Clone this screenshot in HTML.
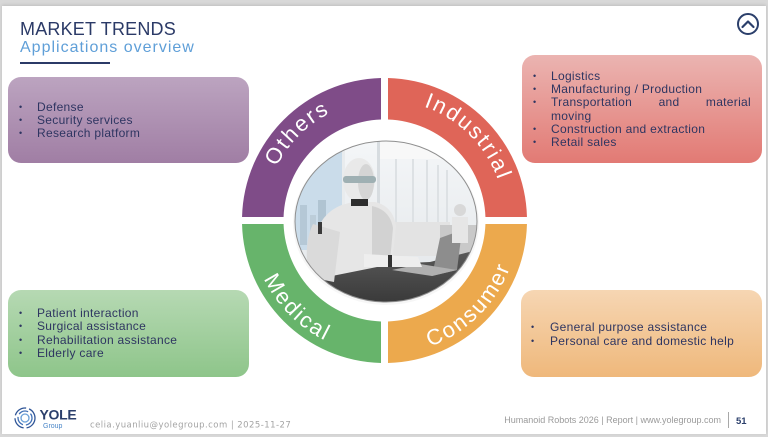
<!DOCTYPE html>
<html><head><meta charset="utf-8">
<style>
html,body{margin:0;padding:0;}
body{width:768px;height:437px;position:relative;overflow:hidden;background:#d8d8d8;font-family:"Liberation Sans",sans-serif;}
.slide{position:absolute;left:2px;top:6px;width:764px;height:428px;background:#fff;box-shadow:0 -1px 3px rgba(0,0,0,.12);}
.box{position:absolute;border-radius:13px;}
.li{position:absolute;font-size:12px;line-height:13px;color:#2e3561;white-space:nowrap;letter-spacing:.3px;}
.b{position:absolute;font-size:9px;line-height:13px;color:#2e3561;}
.t{position:absolute;white-space:nowrap;}
</style></head><body>
<div class="slide"></div>

<div class="t" style="left:20px;top:19px;font-size:18px;line-height:20px;color:#2b3a67;letter-spacing:.2px;">MARKET TRENDS</div>
<div class="t" style="left:20px;top:39px;font-size:16px;line-height:18px;color:#5f9fd8;letter-spacing:1px;">Applications overview</div>
<div style="position:absolute;left:20px;top:62px;width:90px;height:2px;background:#2b3a67;"></div>

<!-- boxes -->
<div class="box" style="left:8px;top:77px;width:241px;height:86px;background:linear-gradient(#bca4c0,#a07ea4);"></div>
<div class="box" style="left:522px;top:55px;width:240px;height:108px;background:linear-gradient(#ebb4b1,#e27a74);"></div>
<div class="box" style="left:8px;top:290px;width:241px;height:87px;background:linear-gradient(#b6d9b3,#8ec58a);"></div>
<div class="box" style="left:521px;top:290px;width:241px;height:87px;background:linear-gradient(#f6d6b3,#efb87b);"></div>

<!-- purple text -->
<div class="b" style="left:19px;top:100.5px">•</div><div class="li" style="left:37px;top:100.5px">Defense</div>
<div class="b" style="left:19px;top:113.5px">•</div><div class="li" style="left:37px;top:113.5px">Security services</div>
<div class="b" style="left:19px;top:126.5px">•</div><div class="li" style="left:37px;top:126.5px">Research platform</div>

<!-- red text -->
<div class="b" style="left:533px;top:69.5px">•</div><div class="li" style="left:551px;top:69.5px">Logistics</div>
<div class="b" style="left:533px;top:82.5px">•</div><div class="li" style="left:551px;top:82.5px">Manufacturing / Production</div>
<div class="b" style="left:533px;top:96px">•</div><div class="li" style="left:551px;top:96px;width:200px;display:flex;justify-content:space-between;"><span>Transportation</span><span>and</span><span>material</span></div>
<div class="li" style="left:551px;top:109.5px">moving</div>
<div class="b" style="left:533px;top:122.5px">•</div><div class="li" style="left:551px;top:122.5px">Construction and extraction</div>
<div class="b" style="left:533px;top:136px">•</div><div class="li" style="left:551px;top:136px">Retail sales</div>

<!-- green text -->
<div class="b" style="left:19px;top:306.5px">•</div><div class="li" style="left:37px;top:306.5px">Patient interaction</div>
<div class="b" style="left:19px;top:320px">•</div><div class="li" style="left:37px;top:320px">Surgical assistance</div>
<div class="b" style="left:19px;top:333.5px">•</div><div class="li" style="left:37px;top:333.5px">Rehabilitation assistance</div>
<div class="b" style="left:19px;top:346.5px">•</div><div class="li" style="left:37px;top:346.5px">Elderly care</div>

<!-- orange text -->
<div class="b" style="left:531px;top:320.5px">•</div><div class="li" style="left:550px;top:320.5px">General purpose assistance</div>
<div class="b" style="left:531px;top:334.5px">•</div><div class="li" style="left:550px;top:334.5px">Personal care and domestic help</div>

<svg width="768" height="437" style="position:absolute;left:0;top:0" xmlns="http://www.w3.org/2000/svg">
<defs>
<clipPath id="ph"><ellipse cx="386" cy="221.5" rx="91" ry="80.5"/></clipPath>
<linearGradient id="bg" x1="0" y1="0" x2="0" y2="1"><stop offset="0" stop-color="#f4f6f8"/><stop offset="1" stop-color="#e2e6e9"/></linearGradient>
<linearGradient id="tb" x1="0" y1="0" x2="0" y2="1"><stop offset="0" stop-color="#5a5a5a"/><stop offset="1" stop-color="#3a3a3a"/></linearGradient>
<path id="pO" d="M264,220.5 A120.5,120.5 0 0 1 384.5,100"/>
<path id="pI" d="M384.5,100 A120.5,120.5 0 0 1 505,220.5"/>
<path id="pM" d="M250.5,220.5 A134,134 0 0 0 384.5,354.5"/>
<path id="pC" d="M384.5,354.5 A134,134 0 0 0 518.5,220.5"/>
</defs>

<!-- ring -->
<path d="M242.04,217 A142.5,142.5 0 0 1 381,78.04 L381,119.56 A101,101 0 0 0 283.56,217 Z" fill="#7f4c88"/>
<path d="M388,78.04 A142.5,142.5 0 0 1 526.96,217 L485.44,217 A101,101 0 0 0 388,119.56 Z" fill="#df6558"/>
<path d="M526.96,224 A142.5,142.5 0 0 1 388,362.96 L388,321.44 A101,101 0 0 0 485.44,224 Z" fill="#eca94d"/>
<path d="M381,362.96 A142.5,142.5 0 0 1 242.04,224 L283.56,224 A101,101 0 0 0 381,321.44 Z" fill="#67b46b"/>

<g font-family="Liberation Sans, sans-serif" font-size="22" fill="#fff" letter-spacing="2" text-anchor="middle">
<text><textPath href="#pO" startOffset="50%">Others</textPath></text>
<text><textPath href="#pI" startOffset="50%">Industrial</textPath></text>
<text><textPath href="#pM" startOffset="50%">Medical</textPath></text>
<text><textPath href="#pC" startOffset="50%">Consumer</textPath></text>
</g>

<!-- photo -->
<ellipse cx="386" cy="223" rx="93" ry="82" fill="#f0f0f0" opacity=".6"/>
<g clip-path="url(#ph)">
<rect x="295" y="141" width="182" height="161" fill="url(#bg)"/>
<rect x="295" y="150" width="50" height="100" fill="#cadcea"/>
<rect x="300" y="205" width="7" height="40" fill="#b5c8d6"/>
<rect x="310" y="215" width="6" height="30" fill="#bccdd9"/>
<rect x="318" y="200" width="8" height="45" fill="#b0c4d2"/>
<rect x="342" y="141" width="3" height="110" fill="#e9ecee"/>
<rect x="377" y="141" width="3" height="90" fill="#d7dce0"/>
<rect x="395" y="150" width="2" height="80" fill="#dde1e4"/>
<rect x="412" y="155" width="2" height="75" fill="#dde1e4"/>
<rect x="426" y="160" width="2" height="70" fill="#dde1e4"/>
<rect x="437" y="165" width="2" height="60" fill="#dde1e4"/>
<rect x="446" y="170" width="2" height="55" fill="#dde1e4"/>
<rect x="380" y="141" width="97" height="18" fill="#f8f8f8"/>
<rect x="385" y="222" width="65" height="34" fill="#e3e3e3"/>
<rect x="440" y="225" width="37" height="35" fill="#c9c9c9"/>
<polygon points="295,268 430,262 477,250 477,302 295,302" fill="url(#tb)"/>
<polygon points="432,276 440,238 462,230 457,270" fill="#8d8d8d"/>
<polygon points="392,270 432,276 457,270 420,264" fill="#b0b0b0"/>
<path d="M318,228 Q328,205 355,202 L375,202 Q393,206 396,226 L392,264 L332,276 Z" fill="#e6e6e6"/>
<path d="M372,206 Q390,210 393,228 L390,262 L372,264 Z" fill="#d2d2d2"/>
<path d="M313,224 Q303,244 309,277 L334,282 L340,232 Z" fill="#dadada"/>
<rect x="318" y="222" width="4" height="12" fill="#3a3a3a"/>
<path d="M364,254 L418,257 L422,267 L364,267 Z" fill="#eeeeee"/>
<rect x="388" y="255" width="4" height="12" fill="#333"/>
<ellipse cx="359" cy="180" rx="16" ry="22" fill="#e9e9e9"/>
<ellipse cx="366" cy="182" rx="8" ry="18" fill="#d5d5d5"/>
<rect x="343" y="176" width="33" height="7" rx="3" fill="#9fb0b3"/>
<rect x="351" y="199" width="17" height="7" fill="#2e2e2e"/>
<circle cx="460" cy="210" r="6" fill="#d8d8d8"/>
<rect x="452" y="217" width="16" height="26" fill="#e6e6e6"/>
</g>
<ellipse cx="386" cy="221.5" rx="91" ry="80.5" fill="none" stroke="#8f8f8f" stroke-width="1"/>

<!-- top-right icon -->
<circle cx="748" cy="24" r="10" fill="none" stroke="#2b3f6b" stroke-width="2"/>
<polyline points="742.5,27 748,21.5 753.5,27" fill="none" stroke="#2b3f6b" stroke-width="2.2" stroke-linecap="round" stroke-linejoin="round"/>

<!-- logo -->
<g fill="none" stroke="#3f6fb5" stroke-width="1.3">
<circle cx="25" cy="418" r="10" stroke="#2f5597" stroke-dasharray="14 3"/>
<circle cx="25" cy="418" r="7" stroke-dasharray="10 3"/>
<circle cx="25" cy="418" r="4" stroke="#6aa0d8"/>
</g>
<text x="39.5" y="419.5" font-family="Liberation Sans, sans-serif" font-weight="bold" font-size="14" fill="#2b3f6b" letter-spacing="-0.3">YOLE</text>
<text x="43" y="428" font-family="Liberation Sans, sans-serif" font-size="7" fill="#4a86c8">Group</text>

<!-- footer -->
<text x="90" y="427.5" font-family="DejaVu Sans, sans-serif" font-size="8.5" fill="#a3a3a3" letter-spacing="0.45">celia.yuanliu@yolegroup.com  |  2025-11-27</text>
<text x="721" y="423" text-anchor="end" font-family="Liberation Sans, sans-serif" font-size="9" fill="#9a9a9a">Humanoid Robots 2026 | Report | www.yolegroup.com</text>
<rect x="728" y="412" width="1" height="16" fill="#a8a8a8"/>
<text x="736" y="424" font-family="Liberation Sans, sans-serif" font-weight="bold" font-size="9.5" fill="#2b3f6b">51</text>
</svg>
</body></html>
